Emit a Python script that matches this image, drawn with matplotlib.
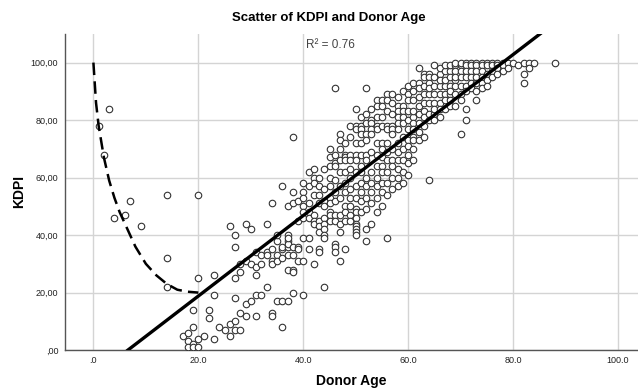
import numpy as np
import matplotlib
matplotlib.use("Agg")
import matplotlib.pyplot as plt
from matplotlib.ticker import FixedLocator, FixedFormatter

# donor ages (years) and the KDPI values seen at each age
ages = [1, 2, 3, 4, 6, 7, 9, 14, 17, 18, 19, 20, 21, 22, 23, 24, 25, 26, 27, 28,
        29, 30, 31, 32, 33, 34, 35, 36, 37, 38, 39, 40, 41, 42, 43, 44, 45, 46, 47, 48,
        49, 50, 51, 52, 53, 54, 55, 56, 57, 58, 59, 60, 61, 62, 63, 64, 65, 66, 67, 68,
        69, 70, 71, 72, 73, 74, 75, 76, 77, 78, 79, 80, 81, 82, 83, 84, 88]
kdpi_by_age = [
    [78], [68], [84], [46], [47], [52], [43], [54, 32, 22], [5], [6, 3, 1],
    [14, 8, 2, 1], [54, 25, 4, 1], [5], [14, 11], [26, 19, 4], [8], [7], [43, 9, 5],
    [40, 36, 25, 18, 10, 7], [30, 27, 13, 7],
    [44, 31, 16, 12], [42, 17, 30], [29, 26, 19, 12, 34], [19, 30, 33], [22, 34, 33, 44],
    [51, 35, 31, 30, 13, 12], [17, 33, 31, 38, 40], [57, 35, 32, 17, 8, 36],
    [50, 40, 38, 36, 33, 28, 17, 37, 39], [74, 55, 51, 33, 28, 27, 20, 36],
    [36, 35, 31, 45, 52], [55, 53, 50, 48, 46, 39, 31, 19, 58],
    [57, 51, 48, 46, 39, 35, 62], [60, 58, 47, 45, 44, 30, 54, 63],
    [54, 51, 45, 43, 41, 35, 34, 60, 57],
    [52, 50, 46, 44, 42, 40, 39, 22, 63, 56],
    [67, 64, 57, 53, 51, 48, 47, 45, 60, 70],
    [91, 65, 64, 59, 47, 45, 37, 36, 34, 55, 52, 68],
    [75, 73, 66, 47, 44, 41, 31, 62, 57, 53, 70],
    [68, 67, 66, 50, 48, 45, 35, 62, 58, 55, 72],
    [68, 66, 50, 47, 45, 56, 60, 63, 53, 74, 78],
    [84, 78, 77, 72, 68, 66, 49, 48, 46, 44, 43, 42, 41, 40, 62, 57, 53],
    [78, 77, 75, 72, 68, 64, 48, 62, 58, 55, 52, 81],
    [91, 75, 73, 68, 66, 42, 38, 60, 57, 53, 49, 79, 82],
    [80, 79, 77, 75, 69, 44, 62, 55, 58, 51, 84],
    [87, 81, 78, 77, 68, 72, 60, 57, 64, 53, 85, 48],
    [81, 78, 67, 64, 72, 70, 58, 55, 62, 87, 85, 50],
    [89, 87, 83, 78, 77, 66, 39, 72, 62, 58, 69, 54],
    [89, 86, 78, 77, 75, 66, 70, 60, 64, 82, 56],
    [85, 83, 81, 79, 77, 66, 63, 57, 72, 69, 88, 60],
    [85, 83, 81, 79, 66, 70, 74, 62, 90, 58],
    [89, 87, 77, 73, 68, 61, 83, 80, 92, 71, 65],
    [93, 87, 81, 79, 77, 74, 73, 70, 83, 90, 66],
    [98, 93, 85, 73, 82, 88, 76, 91, 79],
    [96, 95, 83, 81, 92, 86, 89, 78, 74],
    [96, 95, 93, 59, 89, 82, 86, 91, 80],
    [99, 92, 89, 82, 80, 86, 95, 84],
    [96, 92, 89, 86, 81, 84, 94, 98],
    [97, 92, 89, 94, 87, 99, 84],
    [97, 92, 89, 85, 95, 90, 99, 87],
    [99, 97, 89, 85, 94, 92, 100, 95],
    [99, 97, 95, 75, 92, 89, 100, 87],
    [100, 99, 97, 95, 84, 80, 92, 90],
    [100, 99, 97, 95, 93, 91],
    [100, 99, 97, 95, 90, 87, 93],
    [100, 99, 97, 95, 93, 91],
    [100, 99, 96, 94, 92],
    [100, 99, 97, 95],
    [100, 99, 98, 96],
    [100, 99, 97],
    [100, 98],
    [100],
    [99],
    [100, 96, 93],
    [100, 98],
    [100],
    [100],
]

# linear fit shown in the chart
fit_intercept = -9.2
fit_slope = 1.40
r_squared = 0.76

# dashed curve over the youngest donors
curve_age = [0, 0.5, 1, 2, 3, 4, 5, 6, 7, 8, 10, 12, 14, 16, 18, 20]
curve_kdpi = [100, 86, 78, 67, 59, 53, 48, 44, 40, 36, 30, 26, 23, 21, 20.3, 20]

x_ticks = [0, 20, 40, 60, 80, 100]
x_tick_labels = [".0", "20.0", "40.0", "60.0", "80.0", "100.0"]
y_ticks = [0, 20, 40, 60, 80, 100]
y_tick_labels = [",00", "20,00", "40,00", "60,00", "80,00", "100,00"]

donor_age = np.concatenate([[a] * len(v) for a, v in zip(ages, kdpi_by_age)])
kdpi = np.concatenate(kdpi_by_age)

plt.rcParams['font.family'] = ['Liberation Sans', 'DejaVu Sans']

fig = plt.figure(figsize=(6.38, 3.89), dpi=100)
ax = fig.add_axes([0.102, 0.10, 0.898, 0.813])

ax.set_xlim(-5.4, 103.8)
ax.set_ylim(0, 110)

ax.grid(True, color='#d4d4d4', linewidth=1.0)
ax.set_axisbelow(True)

ax.scatter(donor_age, kdpi, s=22, facecolors='white', edgecolors='#333333',
           linewidths=0.8, zorder=3)

ax.plot(curve_age, curve_kdpi, color='black', linewidth=1.8,
        linestyle=(0, (5, 2.5)), zorder=4)
ax.axline((0, fit_intercept), slope=fit_slope, color='black', linewidth=2.4, zorder=5)

ax.xaxis.set_major_locator(FixedLocator(x_ticks))
ax.xaxis.set_major_formatter(FixedFormatter(x_tick_labels))
ax.yaxis.set_major_locator(FixedLocator(y_ticks))
ax.yaxis.set_major_formatter(FixedFormatter(y_tick_labels))
ax.tick_params(length=0, labelsize=6.5, colors='#222222')
ax.tick_params(axis='x', pad=4)
ax.tick_params(axis='y', pad=5)

for side in ['top', 'right']:
    ax.spines[side].set_visible(False)
for side in ['left', 'bottom']:
    ax.spines[side].set_color('#555555')
    ax.spines[side].set_linewidth(1.0)

ax.set_xlabel('Donor Age', fontsize=10, fontweight='bold', labelpad=7)
ax.set_ylabel('KDPI', fontsize=10, fontweight='bold', labelpad=3)

fig.text(0.515, 0.953, 'Scatter of KDPI and Donor Age', ha='center', va='center',
         fontsize=9.5, fontweight='bold')
ax.text(0.464, 0.985, f'R\u00b2 = {r_squared:.2f}', transform=ax.transAxes, ha='center',
        va='top', fontsize=8.5, color='#444444')

fig.savefig('out.png', dpi=100)
